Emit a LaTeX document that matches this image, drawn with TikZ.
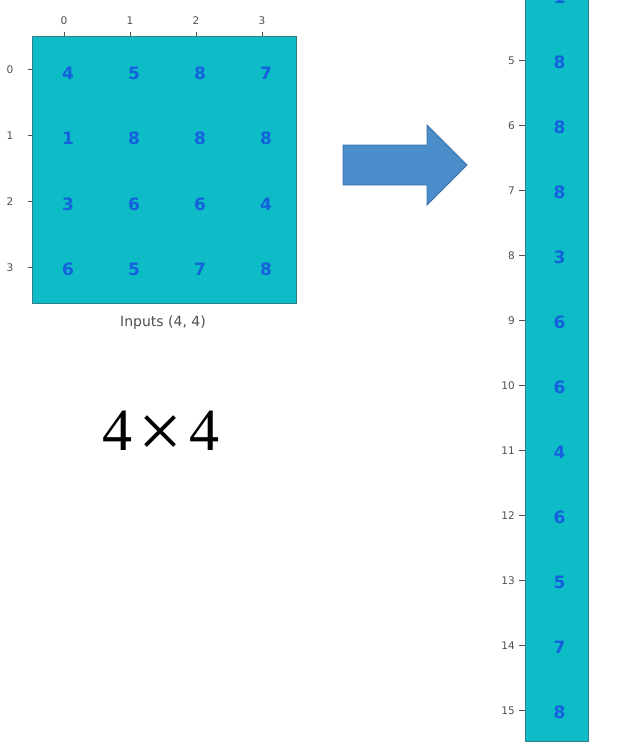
\documentclass[tikz,border=0pt]{standalone}
\usepackage{fontspec}
\newfontfamily\mpl{DejaVu Sans}
\newfontfamily\mplb{DejaVu Sans Bold}
\newfontfamily\serifd{Liberation Serif}
\definecolor{cellfill}{HTML}{0DBCC6}
\definecolor{cellnum}{HTML}{1560DC}
\definecolor{edgec}{HTML}{2E7F86}
\definecolor{tickc}{HTML}{505050}
\definecolor{arrfill}{HTML}{4A8DCB}
\definecolor{arredge}{HTML}{3A70A8}
\begin{document}
\begin{tikzpicture}[x=1pt,y=-1pt,
  num/.style={font=\mplb\fontsize{17}{17}\selectfont, text=cellnum, inner sep=0},
  ticklab/.style={font=\mpl\fontsize{10.5}{11}\selectfont, text=tickc, inner sep=0},
  tickmark/.style={draw=tickc, line width=0.7pt},
  panel/.style={fill=cellfill, draw=edgec, line width=0.9pt},
  bigdigit/.style={font=\serifd\fontsize{60}{60}\selectfont, inner sep=0, anchor=base}]
\useasboundingbox (0,0) rectangle (616,752);
\clip (0,0) rectangle (616,752);
\fill[white] (0,0) rectangle (616,752);
% left matrix
\draw[panel] (32,36) rectangle (296,303);
\foreach \v [count=\i from 0] in {4,5,8,7,1,8,8,8,3,6,6,4,6,5,7,8}{
  \pgfmathtruncatemacro{\r}{int(\i/4)}
  \pgfmathtruncatemacro{\c}{mod(\i,4)}
  \node[num] (m\r\c) at ({68+66*\c},{73+65.5*\r}) {\v};
}
\foreach \j in {0,...,3}{
  \node[ticklab] (tx\j) at ({64+66*\j},21) {\j};
  \draw[tickmark] ({64+66*\j},32) -- ({64+66*\j},36);
  \node[ticklab, anchor=east] (ty\j) at (13.5,{70+66*\j}) {\j};
  \draw[tickmark] (28,{69+66*\j}) -- (32,{69+66*\j});
}
\node[font=\mpl\fontsize{14}{16}\selectfont, text=tickc] (lbl) at (163,323) {Inputs (4, 4)};
% 4 x 4
\node[bigdigit] (d1) at (117,450) {4};
\node[font=\serifd\fontsize{78}{78}\selectfont, inner sep=0] (times) at (160.5,437) {×};
\node[bigdigit] (d2) at (204,450) {4};
% arrow
\draw[fill=arrfill, draw=arredge, line width=0.8pt, line join=miter]
  (343,145) -- (427,145) -- (427,125) -- (467,165) -- (427,205) -- (427,185) -- (343,185) -- cycle;
% right column (rows 4..15 visible; the top runs off the page)
\draw[panel] (525,-20) rectangle (588,741);
\foreach \v [count=\i from 4] in {1,8,8,8,3,6,6,4,6,5,7,8}{
  \node[num] (f\i) at (559.5,{712-65*(15-\i)}) {\v};
  \node[ticklab, anchor=east] (fy\i) at (515,{710.5-65*(15-\i)}) {\i};
  \draw[tickmark] (519,{710-65*(15-\i)}) -- (525,{710-65*(15-\i)});
}
\end{tikzpicture}
\end{document}
